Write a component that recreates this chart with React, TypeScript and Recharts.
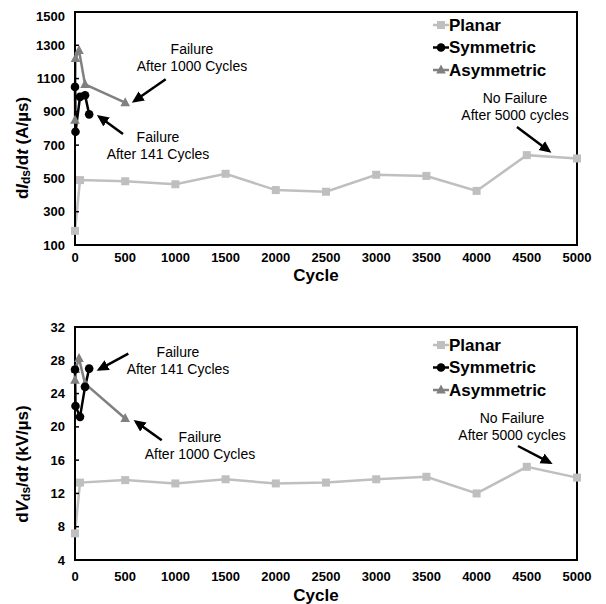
import React from 'react';
import {
  LineChart,
  Line,
  XAxis,
  YAxis,
  ReferenceArea,
  ReferenceLine,
  Customized,
} from 'recharts';

const FONT = '"Liberation Sans", Arial, Helvetica, sans-serif';

// Cycle axis
const cycleTicks = [0, 500, 1000, 1500, 2000, 2500, 3000, 3500, 4000, 4500, 5000];

// Planar device
const planarCycles = [0, 50, 500, 1000, 1500, 2000, 2500, 3000, 3500, 4000, 4500, 5000];
const planarDiDt = [185, 490, 483, 465, 528, 430, 420, 522, 515, 425, 640, 620];
const planarDvDt = [7.2, 13.3, 13.6, 13.2, 13.7, 13.2, 13.3, 13.7, 14.0, 12.0, 15.2, 13.9];

// Symmetric device (failed after 141 cycles)
const symCycles = [0, 5, 50, 100, 141];
const symDiDt = [1050, 780, 990, 1000, 885];
const symDvDt = [26.9, 22.5, 21.2, 24.8, 27.0];

// Asymmetric device (failed after 1000 cycles)
const asymCycles = [0, 5, 40, 100, 500];
const asymDiDt = [850, 1220, 1268, 1065, 955];
const asymDvDt = [25.6, 26.9, 28.2, 25.2, 21.0];

// Value axes
const didtTicks = [100, 300, 500, 700, 900, 1100, 1300, 1500];
const dvdtTicks = [4, 8, 12, 16, 20, 24, 28, 32];

const PLANAR = '#BFBFBF';
const SYM = '#000000';
const ASYM = '#808080';

type Row = { cycle: number; value: number };
const toRows = (c: number[], v: number[]): Row[] => c.map((x, i) => ({ cycle: x, value: v[i] }));

const squareDot = (color: string) => (p: any) =>
  p.cx == null ? <g key={`s${p.index}`} /> : (
    <rect key={`s${p.index}`} x={p.cx - 4} y={p.cy - 4} width={8} height={8} fill={color} />
  );
const circleDot = (color: string) => (p: any) =>
  p.cx == null ? <g key={`c${p.index}`} /> : (
    <circle key={`c${p.index}`} cx={p.cx} cy={p.cy} r={4.3} fill={color} />
  );
const triDot = (color: string) => (p: any) =>
  p.cx == null ? <g key={`t${p.index}`} /> : (
    <polygon
      key={`t${p.index}`}
      points={`${p.cx},${p.cy - 5.5} ${p.cx + 4.8},${p.cy + 3.5} ${p.cx - 4.8},${p.cy + 3.5}`}
      fill={color}
    />
  );

type Note = { x: number; y: number; lines: string[] };
type Seg = [{ x: number; y: number }, { x: number; y: number }];

type PanelProps = {
  id: string;
  height: number;
  marginTop: number;
  xAxisHeight: number;
  xTickMargin: number;
  planar: number[];
  sym: number[];
  asym: number[];
  yDomain: [number, number];
  yTicks: number[];
  yLabel: React.ReactNode;
  yLabelPos: { x: number; y: number };
  cycleLabelY: number;
  legendY: number;
  notes: Note[];
  arrows: Seg[];
};

const Legend = ({ top }: { top: number }) => {
  const items = [
    { name: 'Planar', color: PLANAR, shape: 'square' },
    { name: 'Symmetric', color: SYM, shape: 'circle' },
    { name: 'Asymmetric', color: ASYM, shape: 'triangle' },
  ];
  const cx = 433;
  return (
    <g>
      {items.map((it, i) => {
        const y = top + i * 22.5;
        return (
          <g key={it.name}>
            <line x1={cx - 8} x2={cx + 8} y1={y} y2={y} stroke={it.color} strokeWidth={2.5} />
            {it.shape === 'square' && <rect x={cx - 4} y={y - 4} width={8} height={8} fill={it.color} />}
            {it.shape === 'circle' && <circle cx={cx} cy={y} r={4.3} fill={it.color} />}
            {it.shape === 'triangle' && (
              <polygon points={`${cx},${y - 5.5} ${cx + 4.8},${y + 3.5} ${cx - 4.8},${y + 3.5}`} fill={it.color} />
            )}
            <text x={cx + 8} y={y} dominantBaseline="central" fontFamily={FONT} fontWeight="bold" fontSize={17} fill="#000">
              {it.name}
            </text>
          </g>
        );
      })}
    </g>
  );
};

const Panel = (p: PanelProps) => {
  const planarRows = toRows(planarCycles, p.planar);
  const symRows = toRows(symCycles, p.sym);
  const asymRows = toRows(asymCycles, p.asym);
  const markerId = `arrow-${p.id}`;
  return (
    <LineChart
      width={590}
      height={p.height}
      margin={{ top: p.marginTop, right: 21, bottom: 0, left: 0 }}
    >
      <defs>
        <marker
          id={markerId}
          markerUnits="userSpaceOnUse"
          markerWidth={14}
          markerHeight={12}
          refX={9}
          refY={5.5}
          orient="auto"
        >
          <path d="M0,0 L12,5.5 L0,11 z" fill="#000" />
        </marker>
      </defs>
      <XAxis
        dataKey="cycle"
        type="number"
        domain={[0, 5000]}
        ticks={cycleTicks}
        height={p.xAxisHeight}
        axisLine={{ stroke: '#000', strokeWidth: 2 }}
        tickLine={false}
        tickMargin={p.xTickMargin}
        tick={{ fontFamily: FONT, fontWeight: 'bold', fontSize: 13, fill: '#000' }}
      />
      <YAxis
        type="number"
        domain={p.yDomain}
        ticks={p.yTicks}
        width={67}
        axisLine={{ stroke: '#000', strokeWidth: 2 }}
        tickLine={{ stroke: '#000', strokeWidth: 1.5 }}
        tickSize={-4}
        tickMargin={14}
        tick={{ fontFamily: FONT, fontWeight: 'bold', fontSize: 13, fill: '#000' }}
      />
      <ReferenceArea
        x1={0}
        x2={5000}
        y1={p.yDomain[0]}
        y2={p.yDomain[1]}
        stroke="#000"
        strokeWidth={2}
        fill="none"
        fillOpacity={0}
      />
      <Line
        data={planarRows}
        dataKey="value"
        stroke={PLANAR}
        strokeWidth={2.5}
        dot={squareDot(PLANAR)}
        activeDot={false}
        isAnimationActive={false}
      />
      <Line
        data={asymRows}
        dataKey="value"
        stroke={ASYM}
        strokeWidth={2.5}
        dot={triDot(ASYM)}
        activeDot={false}
        isAnimationActive={false}
      />
      <Line
        data={symRows}
        dataKey="value"
        stroke={SYM}
        strokeWidth={2.5}
        dot={circleDot(SYM)}
        activeDot={false}
        isAnimationActive={false}
      />
      {p.arrows.map((s, i) => (
        <ReferenceLine
          key={`a${i}`}
          segment={s}
          stroke="#000"
          strokeWidth={2.5}
          markerEnd={`url(#${markerId})`}
        />
      ))}
      <Customized
        component={() => (
          <g>
            <text
              x={p.yLabelPos.x}
              y={p.yLabelPos.y}
              transform={`rotate(-90, ${p.yLabelPos.x}, ${p.yLabelPos.y})`}
              textAnchor="middle"
              dominantBaseline="central"
              fontFamily={FONT}
              fontWeight="bold"
              fontSize={17}
              fill="#000"
            >
              {p.yLabel}
            </text>
            <text
              x={308}
              y={p.cycleLabelY}
              textAnchor="middle"
              dominantBaseline="central"
              fontFamily={FONT}
              fontWeight="bold"
              fontSize={17}
              fill="#000"
            >
              Cycle
            </text>
            {p.notes.map((n, i) => (
              <text
                key={`n${i}`}
                x={n.x}
                y={n.y}
                textAnchor="middle"
                dominantBaseline="central"
                fontFamily={FONT}
                fontSize={14}
                fill="#000"
              >
                {n.lines.map((l, j) => (
                  <tspan key={j} x={n.x} dy={j === 0 ? 0 : 16.5}>
                    {l}
                  </tspan>
                ))}
              </text>
            ))}
            <Legend top={p.legendY} />
          </g>
        )}
      />
    </LineChart>
  );
};

const didtLabel = (
  <>
    <tspan>d</tspan>
    <tspan fontStyle="italic">I</tspan>
    <tspan fontSize={12} dy={4}>ds</tspan>
    <tspan dy={-4}>/d</tspan>
    <tspan fontStyle="italic">t</tspan>
    <tspan> (A/µs)</tspan>
  </>
);

const dvdtLabel = (
  <>
    <tspan>d</tspan>
    <tspan fontStyle="italic">V</tspan>
    <tspan fontSize={12} dy={4}>ds</tspan>
    <tspan dy={-4}>/d</tspan>
    <tspan fontStyle="italic">t</tspan>
    <tspan> (kV/µs)</tspan>
  </>
);

export default function App() {
  return (
    <div style={{ width: 590, fontFamily: FONT }}>
      <Panel
        id="didt"
        height={300}
        marginTop={4}
        xAxisHeight={63}
        xTickMargin={2}
        planar={planarDiDt}
        sym={symDiDt}
        asym={asymDiDt}
        yDomain={[100, 1500]}
        yTicks={didtTicks}
        yLabel={didtLabel}
        yLabelPos={{ x: 14, y: 140 }}
        cycleLabelY={267}
        legendY={17}
        notes={[
          { x: 184, y: 41, lines: ['Failure', 'After 1000 Cycles'] },
          { x: 150, y: 129, lines: ['Failure', 'After 141 Cycles'] },
          { x: 507, y: 90, lines: ['No Failure', 'After 5000 cycles'] },
        ]}
        arrows={[
          [{ x: 903, y: 1096 }, { x: 591, y: 965 }],
          [{ x: 478, y: 767 }, { x: 242, y: 871 }],
          [{ x: 4402, y: 809 }, { x: 4721, y: 665 }],
        ]}
      />
      <Panel
        id="dvdt"
        height={296}
        marginTop={19}
        xAxisHeight={44}
        xTickMargin={6}
        planar={planarDvDt}
        sym={symDvDt}
        asym={asymDvDt}
        yDomain={[4, 32]}
        yTicks={dvdtTicks}
        yLabel={dvdtLabel}
        yLabelPos={{ x: 14, y: 156 }}
        cycleLabelY={287}
        legendY={37}
        notes={[
          { x: 170, y: 44, lines: ['Failure', 'After 141 Cycles'] },
          { x: 192, y: 129, lines: ['Failure', 'After 1000 Cycles'] },
          { x: 504, y: 110, lines: ['No Failure', 'After 5000 cycles'] },
        ]}
        arrows={[
          [{ x: 531, y: 28.8 }, { x: 242, y: 26.9 }],
          [{ x: 864, y: 18.4 }, { x: 608, y: 20.6 }],
          [{ x: 4412, y: 17.7 }, { x: 4731, y: 15.7 }],
        ]}
      />
    </div>
  );
}
